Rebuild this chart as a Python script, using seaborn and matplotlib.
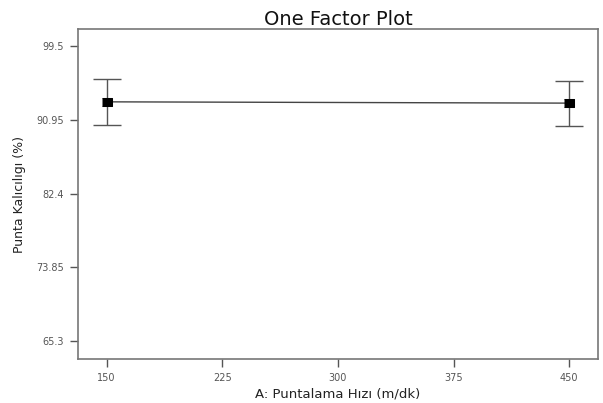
import matplotlib
matplotlib.use("Agg")
import matplotlib.pyplot as plt
import seaborn as sns
import pandas as pd

speed = [150, 450]
mean = [93.05, 92.9]
lower = [90.4, 90.25]
upper = [95.7, 95.5]
xticks = [150, 225, 300, 375, 450]
yticks = [65.3, 73.85, 82.4, 90.95, 99.5]

sns.set_theme(style="white")
plt.rcParams['font.family'] = ['DejaVu Sans']

df = pd.DataFrame({"speed": speed, "mean": mean})
fig = plt.figure(figsize=(6.03, 4.03), dpi=100)
ax = fig.add_axes([0.129, 0.109, 0.863, 0.819])

yerr = [[m - l for m, l in zip(mean, lower)], [u - m for m, u in zip(mean, upper)]]
ax.errorbar(speed, mean, yerr=yerr, fmt='none', ecolor='#555555', elinewidth=1.0,
            capsize=10, capthick=1.0)
sns.lineplot(data=df, x="speed", y="mean", ax=ax, color='#444444', linewidth=1.0,
             marker=[(-1.3, -1), (1.3, -1), (1.3, 1), (-1.3, 1)], markersize=7,
             markerfacecolor='black', markeredgecolor='black')

ax.set_xlim(131.25, 468.75)
ax.set_ylim(63.2, 101.5)
ax.set_xticks(xticks)
ax.set_xticklabels([str(v) for v in xticks])
ax.set_yticks(yticks)
ax.set_yticklabels([f"{v:g}" for v in yticks])
ax.tick_params(axis='both', labelsize=7, labelcolor='#555555', color='#555555',
               length=6, width=1, direction='out', bottom=True, left=True, pad=4)
for s in ax.spines.values():
    s.set_color('#777777')
    s.set_linewidth(1.2)

ax.set_title("One Factor Plot", fontsize=14, color='#111111', pad=3)
ax.set_xlabel("A: Puntalama Hızı (m/dk)", fontsize=9.5, color='#222222', labelpad=3)
ax.set_ylabel("Punta Kalıcılıgı (%)", fontsize=9, color='#222222', labelpad=7)

fig.savefig("out.png", dpi=100)
